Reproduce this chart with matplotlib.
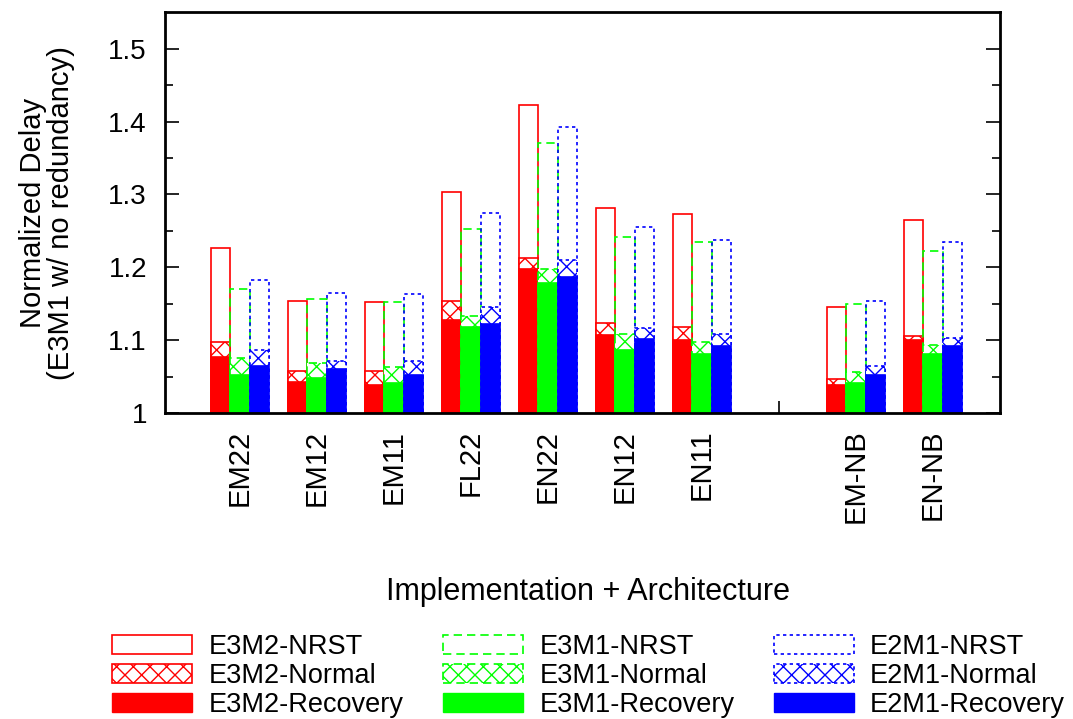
import numpy as np
import matplotlib
matplotlib.use("Agg")
import matplotlib.pyplot as plt
from matplotlib.patches import Patch

plt.rcParams['font.family'] = ['Liberation Sans', 'DejaVu Sans']
plt.rcParams['hatch.linewidth'] = 1.0

# data (normalized delay)
labels = ["EM22", "EM12", "EM11", "FL22", "EN22", "EN12", "EN11", "EM-NB", "EN-NB"]
positions = [0, 1, 2, 3, 4, 5, 6, 8, 9]

e3m2_nrst = [1.226, 1.154, 1.152, 1.303, 1.423, 1.281, 1.273, 1.145, 1.265]
e3m2_normal = [1.098, 1.057, 1.058, 1.154, 1.213, 1.124, 1.118, 1.047, 1.106]
e3m2_recovery = [1.077, 1.042, 1.038, 1.128, 1.197, 1.107, 1.100, 1.039, 1.100]

e3m1_nrst = [1.170, 1.157, 1.153, 1.253, 1.371, 1.242, 1.235, 1.150, 1.222]
e3m1_normal = [1.075, 1.068, 1.063, 1.133, 1.198, 1.109, 1.097, 1.056, 1.093]
e3m1_recovery = [1.052, 1.048, 1.041, 1.118, 1.178, 1.087, 1.081, 1.041, 1.081]

e2m1_nrst = [1.182, 1.165, 1.163, 1.274, 1.392, 1.255, 1.237, 1.154, 1.235]
e2m1_normal = [1.086, 1.072, 1.071, 1.145, 1.210, 1.116, 1.108, 1.064, 1.103]
e2m1_recovery = [1.064, 1.060, 1.052, 1.122, 1.186, 1.101, 1.092, 1.052, 1.092]

series = [
    ("E3M2", "#ff0000", "-", e3m2_nrst, e3m2_normal, e3m2_recovery),
    ("E3M1", "#00ff00", (0, (5, 3)), e3m1_nrst, e3m1_normal, e3m1_recovery),
    ("E2M1", "#0000ff", (0, (2, 2)), e2m1_nrst, e2m1_normal, e2m1_recovery),
]

fig = plt.figure(figsize=(10.73, 7.19), dpi=100)
ax = fig.add_axes([0.1538, 0.4256, 0.932 - 0.1538, 0.983 - 0.4256])

x = np.array(positions, dtype=float)
width = 0.25
handles = []
for i, (name, col, ls, nrst, normal, rec) in enumerate(series):
    off = (i - 1) * width
    ax.bar(x + off, np.array(nrst) - 1, bottom=1, width=width, fill=False,
           edgecolor=col, linestyle=ls, linewidth=1.2)
    ax.bar(x + off, np.array(normal) - 1, bottom=1, width=width, facecolor="white",
           edgecolor=col, linestyle=ls, linewidth=1.2, hatch="xx")
    ax.bar(x + off, np.array(rec) - 1, bottom=1, width=width, color=col,
           edgecolor=col, linewidth=1.2)
    handles += [
        Patch(fill=False, edgecolor=col, linestyle=ls, linewidth=1.2, label=name + "-NRST"),
        Patch(facecolor="white", edgecolor=col, linestyle=ls, linewidth=1.2, hatch="xx",
              label=name + "-Normal"),
        Patch(facecolor=col, edgecolor=col, label=name + "-Recovery"),
    ]

ax.set_xlim(-0.974, 9.87)
ax.set_ylim(1, 1.55)
ax.set_yticks([1, 1.1, 1.2, 1.3, 1.4, 1.5])
ax.set_yticklabels(["1", "1.1", "1.2", "1.3", "1.4", "1.5"])
ax.set_yticks(np.arange(1.05, 1.55, 0.1), minor=True)
ax.set_xticks(range(10))
ax.set_xticklabels(labels[:7] + [""] + labels[7:], rotation=90, va="top", ha="center")
ax.set_axisbelow(True)

ax.tick_params(axis="y", which="major", direction="in", length=10, width=1.2,
               right=True, labelsize=20, pad=13)
ax.tick_params(axis="y", which="minor", direction="in", length=6, width=1.2, right=True)
ax.tick_params(axis="x", direction="in", length=9, width=1.2, labelsize=21, pad=12)
for s in ax.spines.values():
    s.set_linewidth(2)

ax.set_ylabel("Normalized Delay\n(E3M1 w/ no redundancy)", fontsize=21, linespacing=1.0)
ax.yaxis.set_label_coords(-0.108, 0.5)
fig.text(0.548, 1 - 592 / 719, "Implementation + Architecture", fontsize=22,
         ha="center", va="center")

fig.legend(handles=handles, ncol=3, loc="upper left", bbox_to_anchor=(0.092, 1 - 620 / 719),
           frameon=False, fontsize=19.5, handlelength=2.96, handleheight=0.7,
           handletextpad=0.6, labelspacing=0.12, columnspacing=1.45, borderpad=0)

fig.savefig("out.png", dpi=100)
